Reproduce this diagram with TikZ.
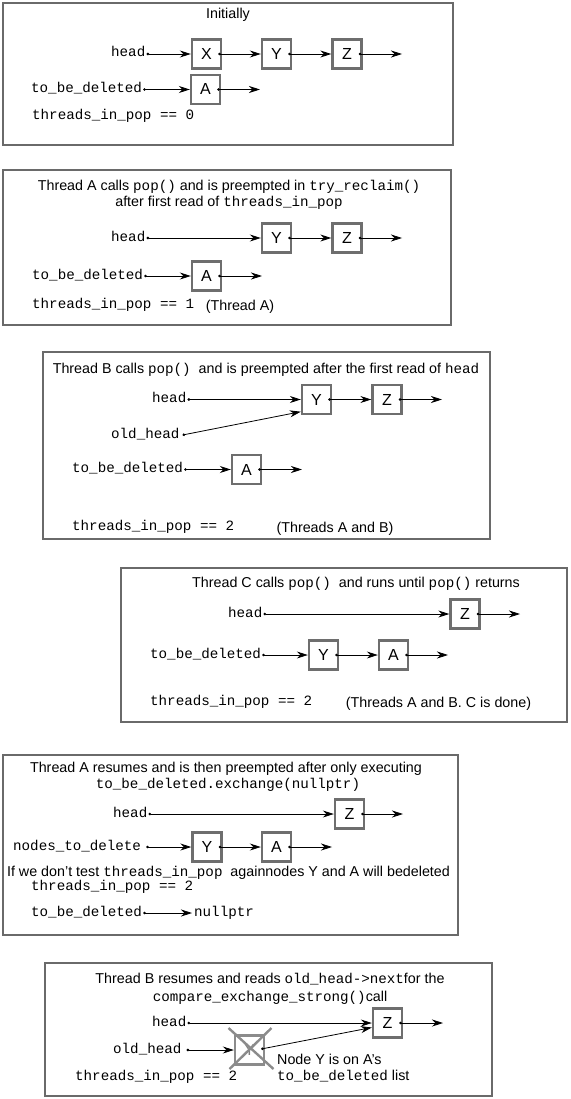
\documentclass[tikz,border=0pt]{standalone}
\usepackage{fontspec}
\setmainfont{Liberation Sans}
\setmonofont{Liberation Mono}
\usetikzlibrary{arrows.meta,calc}
\definecolor{framegray}{HTML}{6A6A6A}
\definecolor{boxgray}{HTML}{6E6E6E}
\newcommand\mytt[1]{{\ttfamily\fontsize{14.2}{16}\selectfont #1}}
\begin{document}
\begin{tikzpicture}[x=1pt,y=-1pt,
  panel/.style={draw=framegray,line width=2.8pt},
  nbox/.style={draw=boxgray,line width=2.4pt,minimum width=29pt,minimum height=29pt,inner sep=0pt,
    font=\fontsize{16}{18}\selectfont,text height=11pt,text depth=0pt},
  lbl/.style={anchor=west,inner sep=0pt,font=\ttfamily\fontsize{14.2}{16}\selectfont,text height=6pt,text depth=0pt},
  ttl/.style={inner sep=0pt,font=\fontsize{14.3}{16}\selectfont,text height=10pt,text depth=0pt},
  ptr/.style={line width=0.8pt,{Circle[length=2.6pt]}-{Stealth[length=11pt,width=7pt,inset=3.5pt]}},
  xline/.style={draw=boxgray!80,line width=2.4pt},
]
\useasboundingbox (0,0) rectangle (570,1099);

% ---------- Panel 1 ----------
\draw[panel] (3,3) rectangle (453,145);
\node[ttl] (t1) at (228,14) {Initially};
\node[lbl] (h1) at (111,54) {head};
\node[nbox] (X1) at (206.5,54) {X};
\node[nbox] (Y1) at (276.5,54) {Y};
\node[nbox] (Z1) at (347,54) {Z};
\coordinate (e1) at (402,54);
\draw[ptr] ([xshift=1pt]h1.east) -- (X1.west);
\draw[ptr] ([xshift=-4pt]X1.east) -- (Y1.west);
\draw[ptr] ([xshift=-4pt]Y1.east) -- (Z1.west);
\draw[ptr] ([xshift=-4pt]Z1.east) -- (e1);
\node[lbl] (d1) at (31,89.5) {to\_be\_deleted};
\node[nbox] (A1) at (205.5,89.5) {A};
\coordinate (f1) at (260,89.5);
\draw[ptr] ([xshift=1pt]d1.east) -- (A1.west);
\draw[ptr] ([xshift=-4pt]A1.east) -- (f1);
\node[lbl] (c1) at (32,117) {threads\_in\_pop == 0};

% ---------- Panel 2 ----------
\draw[panel] (3,170) rectangle (451,325);
\node[ttl] (t2a) at (229,186) {Thread A calls \mytt{pop()} and is preempted in \mytt{try\_reclaim()}};
\node[ttl] (t2b) at (229,202) {after first read of \mytt{threads\_in\_pop}};
\node[lbl] (h2) at (111,238) {head};
\node[nbox] (Y2) at (276.5,238) {Y};
\node[nbox] (Z2) at (347,238) {Z};
\coordinate (e2) at (402,238);
\draw[ptr] ([xshift=1pt]h2.east) -- (Y2.west);
\draw[ptr] ([xshift=-4pt]Y2.east) -- (Z2.west);
\draw[ptr] ([xshift=-4pt]Z2.east) -- (e2);
\node[lbl] (d2) at (32,276) {to\_be\_deleted};
\node[nbox] (A2) at (206.5,276) {A};
\coordinate (f2) at (262,276);
\draw[ptr] ([xshift=1pt]d2.east) -- (A2.west);
\draw[ptr] ([xshift=-4pt]A2.east) -- (f2);
\node[lbl] (c2) at (32,305) {threads\_in\_pop == 1};
\node[ttl] (n2) at (240,305) {(Thread A)};

% ---------- Panel 3 ----------
\draw[panel] (43,352) rectangle (490,539);
\node[ttl] (t3) at (266,368) {Thread B calls \mytt{pop()}~ and is preempted after the first read of \mytt{head}};
\node[lbl] (h3) at (152,399.5) {head};
\node[nbox] (Y3) at (316.5,399.5) {Y};
\node[nbox] (Z3) at (387,399.5) {Z};
\coordinate (e3) at (442,399.5);
\draw[ptr] ([xshift=1pt]h3.east) -- (Y3.west);
\draw[ptr] ([xshift=-4pt]Y3.east) -- (Z3.west);
\draw[ptr] ([xshift=-4pt]Z3.east) -- (e3);
\node[lbl] (o3) at (111,435) {old\_head};
\draw[ptr] ([xshift=3pt]o3.east) -- ([yshift=3.5pt]Y3.south west);
\node[lbl] (d3) at (72,469.5) {to\_be\_deleted};
\node[nbox] (A3) at (246.5,469.5) {A};
\coordinate (f3) at (302,469.5);
\draw[ptr] ([xshift=1pt]d3.east) -- (A3.west);
\draw[ptr] ([xshift=-4pt]A3.east) -- (f3);
\node[lbl] (c3) at (72,527) {threads\_in\_pop == 2};
\node[ttl] (n3) at (335,527) {(Threads A and B)};

% ---------- Panel 4 ----------
\draw[panel] (121,568) rectangle (567,722);
\node[ttl] (t4) at (356,582) {Thread C calls \mytt{pop()}~ and runs until \mytt{pop()} returns};
\node[lbl] (h4) at (228,614) {head};
\node[nbox] (Z4) at (465,614) {Z};
\coordinate (e4) at (520,614);
\draw[ptr] ([xshift=1pt]h4.east) -- (Z4.west);
\draw[ptr] ([xshift=-4pt]Z4.east) -- (e4);
\node[lbl] (d4) at (150,655) {to\_be\_deleted};
\node[nbox] (Y4) at (323.5,655) {Y};
\node[nbox] (A4) at (393.5,655) {A};
\coordinate (f4) at (448,655);
\draw[ptr] ([xshift=1pt]d4.east) -- (Y4.west);
\draw[ptr] ([xshift=-4pt]Y4.east) -- (A4.west);
\draw[ptr] ([xshift=-4pt]A4.east) -- (f4);
\node[lbl] (c4) at (150,702) {threads\_in\_pop == 2};
\node[ttl] (n4) at (438.5,702) {(Threads A and B. C is done)};

% ---------- Panel 5 ----------
\draw[panel] (3,755) rectangle (458,935);
\node[ttl] (t5a) at (226,767) {Thread A resumes and is then preempted after only executing};
\node[ttl] (t5b) at (228,783) {\mytt{to\_be\_deleted.exchange(nullptr)}};
\node[lbl] (h5) at (113,814) {head};
\node[nbox] (Z5) at (349.5,814) {Z};
\coordinate (e5) at (403,814);
\draw[ptr] ([xshift=1pt]h5.east) -- (Z5.west);
\draw[ptr] ([xshift=-4pt]Z5.east) -- (e5);
\node[lbl] (d5) at (13,847) {nodes\_to\_delete};
\node[nbox] (Y5) at (207,847) {Y};
\node[nbox] (A5) at (276.5,847) {A};
\coordinate (f5) at (332,847);
\draw[ptr] ([xshift=5pt]d5.east) -- (Y5.west);
\draw[ptr] ([xshift=-4pt]Y5.east) -- (A5.west);
\draw[ptr] ([xshift=-4pt]A5.east) -- (f5);
\node[ttl] (w5) at (228.5,871) {If we don't test \mytt{threads\_in\_pop}~ againnodes Y and A will bedeleted};
\node[lbl] (c5) at (31,887) {threads\_in\_pop == 2};
\node[lbl] (d5b) at (31,913) {to\_be\_deleted};
\node[lbl] (n5) at (194,913) {nullptr};
\draw[ptr] ([xshift=1pt]d5b.east) -- ([xshift=-2pt]n5.west);

% ---------- Panel 6 ----------
\draw[panel] (45,963) rectangle (492,1096);
\node[ttl] (t6a) at (270,978) {Thread B resumes and reads \mytt{old\_head->next}for the};
\node[ttl] (t6b) at (270,996) {\mytt{compare\_exchange\_strong()}call};
\node[lbl] (h6) at (152,1023) {head};
\node[nbox] (Z6) at (387.5,1023) {Z};
\coordinate (e6) at (443,1023);
\draw[ptr] ([xshift=1pt]h6.east) -- (Z6.west);
\draw[ptr] ([xshift=-4pt]Z6.east) -- (e6);
\node[lbl] (o6) at (113,1050) {old\_head};
\node[nbox,draw=boxgray!80,text=gray] (Y6) at (249.5,1050) {Y};
\draw[xline] ($(Y6.center)+(-21,-22)$) -- ($(Y6.center)+(24,19)$);
\draw[xline] ($(Y6.center)+(22,-22)$) -- ($(Y6.center)+(-20,19)$);
\draw[ptr] ([xshift=5pt]o6.east) -- (Y6.west);
\draw[ptr] ([xshift=-4pt,yshift=1pt]Y6.east) -- ([yshift=-4.5pt]Z6.west);
\node[ttl,anchor=west] (n6a) at (277,1059) {Node Y is on A's};
\node[ttl,anchor=west] (n6b) at (277,1075) {\mytt{to\_be\_deleted} list};
\node[lbl] (c6) at (75,1077) {threads\_in\_pop == 2};
\end{tikzpicture}
\end{document}
